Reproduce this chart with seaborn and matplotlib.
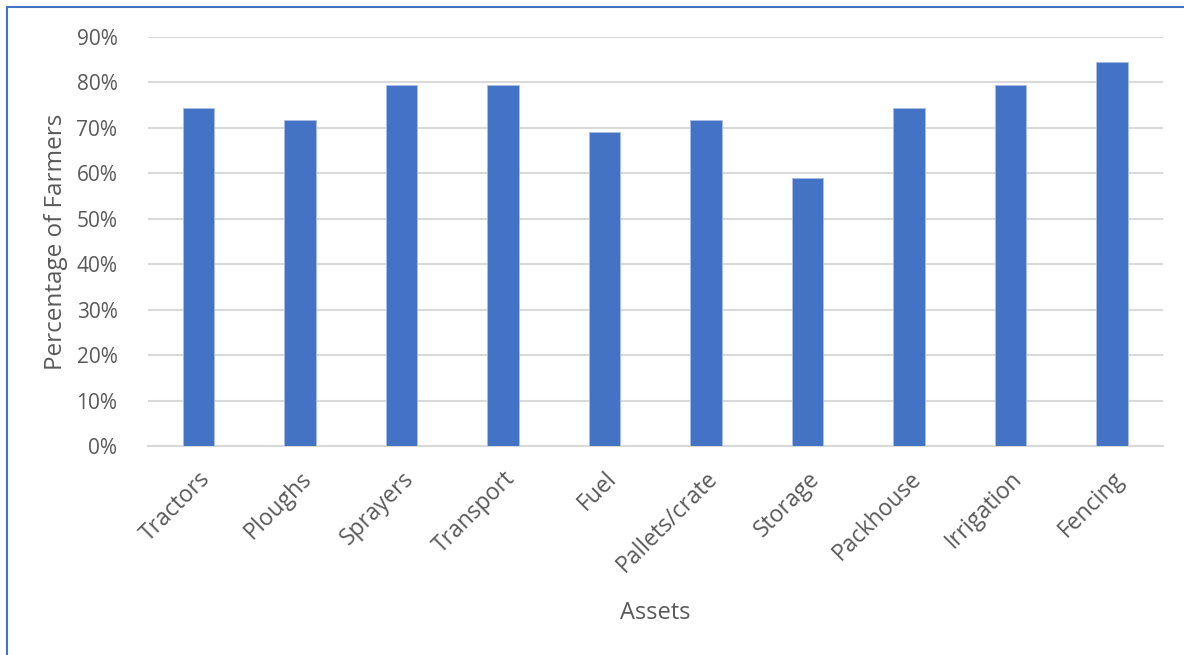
import matplotlib
matplotlib.use("Agg")
import matplotlib.pyplot as plt
from matplotlib.lines import Line2D
from matplotlib.ticker import PercentFormatter, MultipleLocator
import seaborn as sns
import pandas as pd

assets = ["Tractors", "Ploughs", "Sprayers", "Transport", "Fuel",
          "Pallets/crate", "Storage", "Packhouse", "Irrigation", "Fencing"]
share_pct = [74.4, 71.8, 79.5, 79.5, 69.2, 71.8, 59.0, 74.4, 79.5, 84.6]

df = pd.DataFrame({"Assets": assets, "Share": share_pct})

sns.set_theme(style="white")
plt.rcParams["font.family"] = ["Open Sans", "DejaVu Sans"]

text_col = "#595959"
grid_col = "#D9D9D9"
bar_col = "#4472C4"

fig = plt.figure(figsize=(11.84, 6.55), dpi=100)
ax = fig.add_axes([0.125, 0.319, 0.857, 0.6245])

sns.barplot(data=df, x="Assets", y="Share", color=bar_col, width=0.31,
            saturation=1, ax=ax, zorder=3, edgecolor="#A9BFE6", linewidth=0.6)

ax.set_ylim(0, 90)
ax.set_xlim(-0.5, len(assets) - 0.5)
ax.yaxis.set_major_locator(MultipleLocator(10))
ax.yaxis.set_major_formatter(PercentFormatter(decimals=0))
ax.grid(axis="y", color=grid_col, linewidth=1.5, zorder=0)
ax.set_axisbelow(True)

for side in ["top", "right", "left"]:
    ax.spines[side].set_visible(False)
ax.spines["bottom"].set_color(grid_col)
ax.spines["bottom"].set_linewidth(1.5)

ax.tick_params(axis="both", length=0, colors=text_col)
ax.tick_params(axis="y", labelsize=15, pad=22)
ax.tick_params(axis="x", labelsize=16.5, pad=15)
plt.setp(ax.get_xticklabels(), rotation=45, ha="right", rotation_mode="anchor")

ax.set_xlabel("Assets", fontsize=17, color=text_col, labelpad=17)
ax.set_ylabel("Percentage of Farmers", fontsize=17.5, color=text_col, labelpad=6)

# Blue frame along the top and left edges of the figure
fig.add_artist(Line2D([7 / 1184, 1.0], [1 - 7 / 655, 1 - 7 / 655],
                      transform=fig.transFigure, color=bar_col, linewidth=1.5))
fig.add_artist(Line2D([7 / 1184, 7 / 1184], [0.0, 1 - 7 / 655],
                      transform=fig.transFigure, color=bar_col, linewidth=1.5))

fig.savefig("out.png", dpi=100, facecolor="white")
